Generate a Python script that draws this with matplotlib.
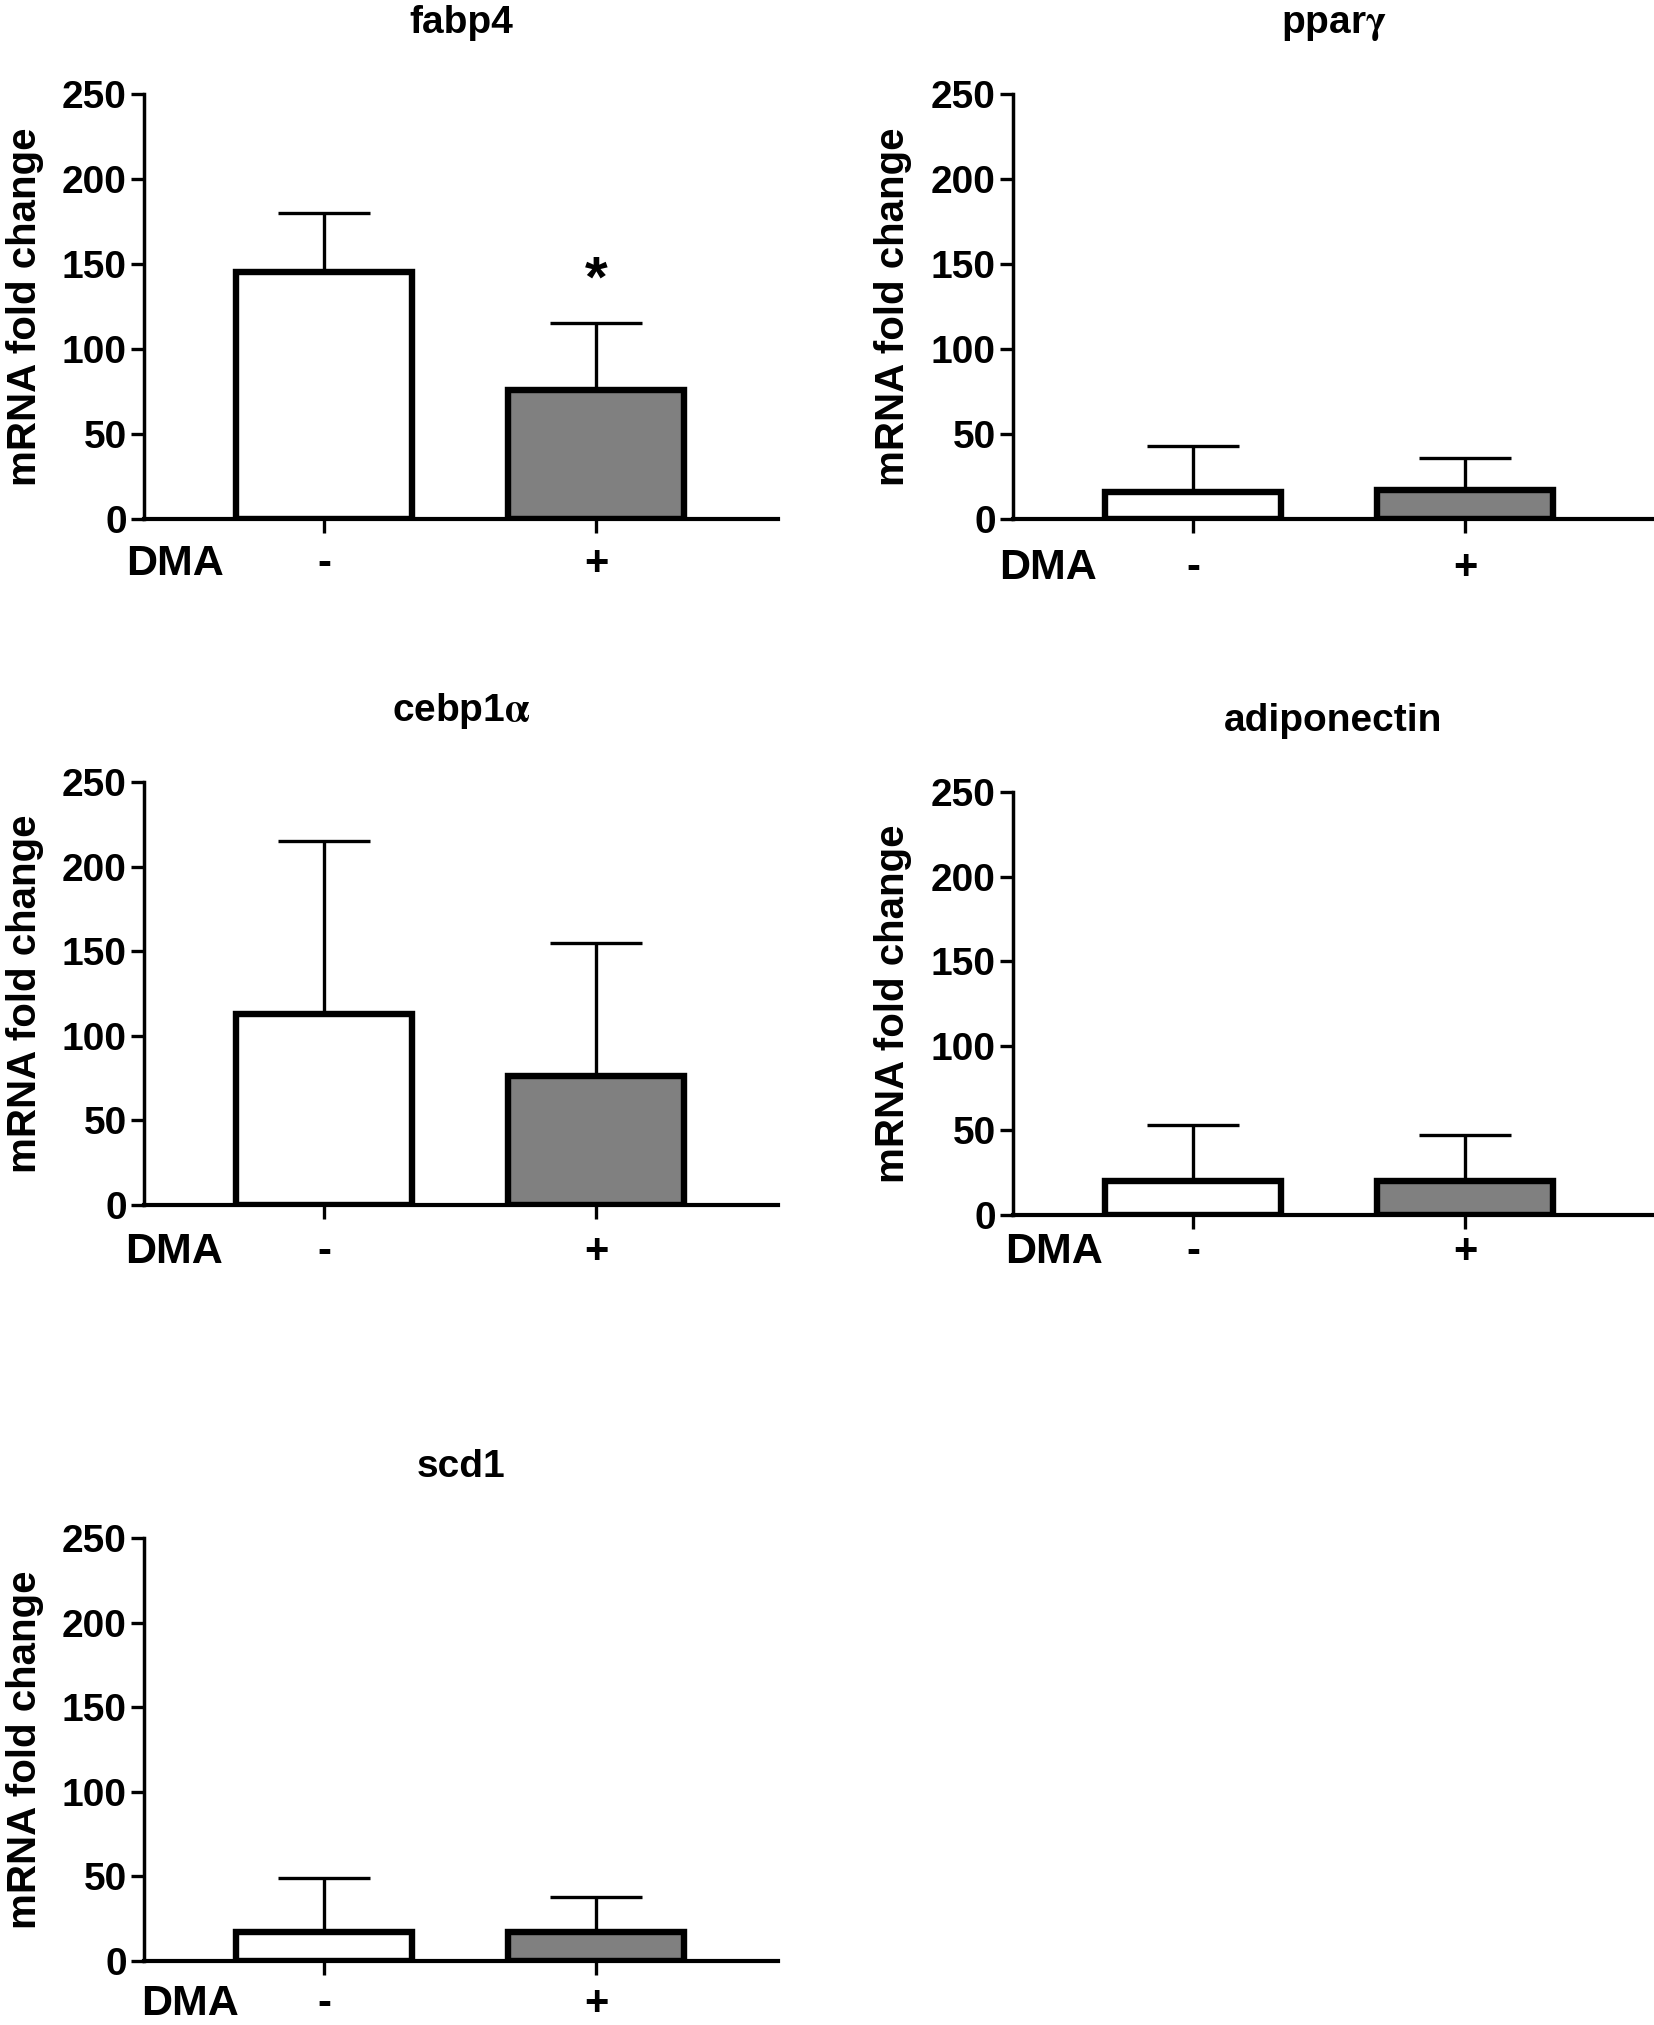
import matplotlib
matplotlib.use('Agg')
import matplotlib.pyplot as plt

plt.rcParams['font.family'] = ['Liberation Sans', 'DejaVu Sans']
plt.rcParams['font.weight'] = 'bold'
plt.rcParams['mathtext.fontset'] = 'stix'

genes = ['fabp4', r'ppar$\mathrm{\gamma}$', r'cebp1$\mathrm{\alpha}$', 'adiponectin', 'scd1']
groups = ['-', '+']
ctrl_mean = [145, 16, 113, 20, 17]
ctrl_upper = [180, 43, 215, 53, 49]
dma_mean = [76, 17, 76, 20, 17]
dma_upper = [115, 36, 155, 47, 38]
star = [True, False, False, False, False]
yticks = [0, 50, 100, 150, 200, 250]

# axes boxes in figure fraction (left, bottom, width, height)
boxes = [
    (0.0871, 0.7437, 0.3833, 0.2099),
    (0.6125, 0.7437, 0.3875, 0.2099),
    (0.0871, 0.4049, 0.3833, 0.2089),
    (0.6125, 0.4000, 0.3875, 0.2089),
    (0.0871, 0.0316, 0.3833, 0.2089),
]
xmax = [1.669, 1.695, 1.669, 1.695, 1.669]
label_drop = [45, 49, 47, 37, 43]   # px below the x axis for DMA / - / +
dma_x = [0.049, 0.055, 0.048, 0.064, 0.072]

fig = plt.figure(figsize=(16.54, 20.25), dpi=100)

for i, gene in enumerate(genes):
    ax = fig.add_axes(boxes[i])
    means = [ctrl_mean[i], dma_mean[i]]
    upper = [ctrl_upper[i] - ctrl_mean[i], dma_upper[i] - dma_mean[i]]
    ax.errorbar([0, 1], means, yerr=[[0, 0], upper], fmt='none', ecolor='black',
                elinewidth=2.4, capsize=33, capthick=2.4, zorder=1)
    ax.bar([0, 1], means, width=0.647, color=['white', '#808080'],
           edgecolor='black', linewidth=4.6, zorder=2)
    if star[i]:
        ax.text(1, dma_upper[i] + 16, '*', ha='center', va='baseline',
                fontsize=42, fontweight='bold')

    ax.set_xlim(-0.662, xmax[i])
    ax.set_ylim(0, 250)
    ax.set_yticks(yticks)
    ax.set_xticks([0, 1])
    ax.set_xticklabels(groups)
    for sp in ['top', 'right']:
        ax.spines[sp].set_visible(False)
    ax.spines['left'].set_linewidth(2.5)
    ax.spines['bottom'].set_linewidth(3.0)
    ax.tick_params(axis='y', direction='out', length=9.5, width=2.4,
                   labelsize=28, pad=3)
    drop_pt = label_drop[i] * 0.72
    ax.tick_params(axis='x', direction='out', length=10, width=2.4,
                   labelsize=30, pad=drop_pt - 10)
    for lab in ax.get_xticklabels():
        lab.set_verticalalignment('center')
        lab.set_fontweight('bold')
    for lab in ax.get_yticklabels():
        lab.set_fontweight('bold')

    ax.set_ylabel('mRNA fold change', fontsize=29, fontweight='bold')
    ax.yaxis.set_label_coords(-0.158, 0.5)
    ax.set_title(gene, fontsize=28, fontweight='bold', pad=44)

    ax_h_px = boxes[i][3] * 2025
    ax.text(dma_x[i], -label_drop[i] / ax_h_px, 'DMA', transform=ax.transAxes,
            ha='center', va='center', fontsize=31, fontweight='bold')

fig.savefig('out.png', dpi=100)
